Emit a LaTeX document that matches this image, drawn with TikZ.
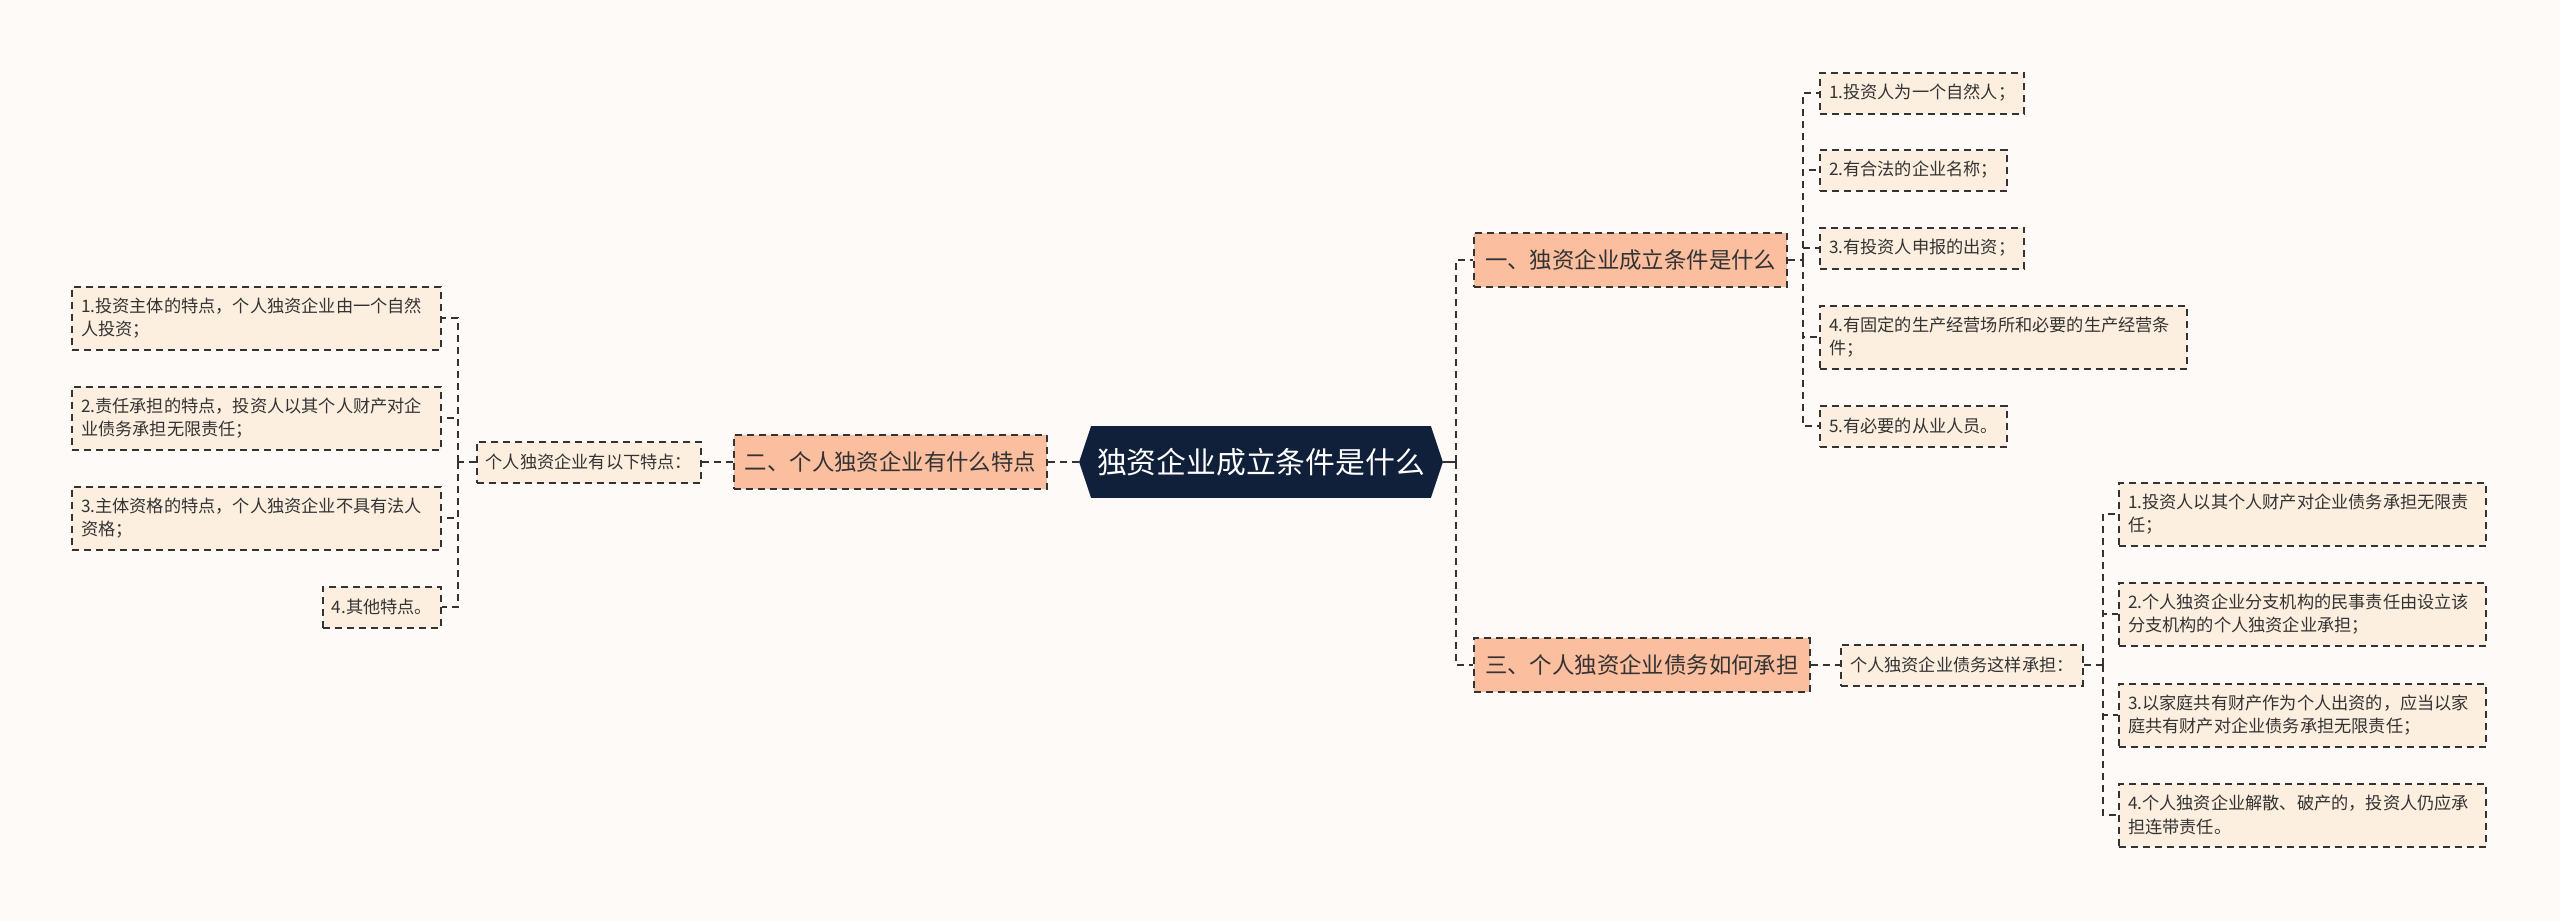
\documentclass[tikz,border=0pt]{standalone}
\usepackage{fontspec}
\setmainfont{Noto Sans CJK SC}
\usetikzlibrary{backgrounds,calc}
\definecolor{bgc}{HTML}{FDFAF8}
\definecolor{rootc}{HTML}{10203A}
\definecolor{brfill}{HTML}{FBBE9F}
\definecolor{leaffill}{HTML}{FDEFDF}
\definecolor{linec}{HTML}{333333}
\definecolor{textc}{HTML}{333333}
\begin{document}
\begin{tikzpicture}[x=0.5pt,y=-0.5pt,
  dashline/.style={draw=linec, line width=1pt, dash pattern=on 3.5pt off 2.5pt},
  conn/.style={dashline},
  leafbox/.style={dashline, fill=leaffill, inner xsep=4.5pt, inner ysep=0pt,
    font=\fontsize{8.6}{11.65}\selectfont, text=textc, align=left, minimum height=20.5pt},
  leaftwo/.style={leafbox, minimum height=31.5pt, text width=174.5pt},
  brbox/.style={dashline, fill=brfill, inner xsep=5.5pt, inner ysep=0pt,
    font=\fontsize{11.2}{13}\selectfont, text=textc, minimum height=27pt},
  rootbox/.style={inner sep=0pt, minimum width=181.5pt, minimum height=35.5pt,
    font=\fontsize{14.9}{17}\selectfont, text=white}
]
\useasboundingbox (0,0) rectangle (2560,921);

% root
\node[rootbox] (root) at (1261,462) {独资企业成立条件是什么};

% branches
\node[brbox, anchor=west] (b1) at (1473,260) {一、独资企业成立条件是什么};
\node[brbox, anchor=west] (b3) at (1473,665) {三、个人独资企业债务如何承担};
\node[brbox, anchor=east] (b2) at (1048,462) {二、个人独资企业有什么特点};

% mid nodes
\node[leafbox, anchor=east] (m2) at (702,462) {个人独资企业有以下特点：};
\node[leafbox, anchor=west] (m3) at (1840,665) {个人独资企业债务这样承担：};

% leaves of branch 1
\node[leafbox, anchor=west] (l1) at (1819,93) {1.投资人为一个自然人；};
\node[leafbox, anchor=west] (l2) at (1819,170) {2.有合法的企业名称；};
\node[leafbox, anchor=west] (l3) at (1819,248) {3.有投资人申报的出资；};
\node[leaftwo, anchor=west] (l4) at (1819,337) {4.有固定的生产经营场所和必要的生产经营条\\件；};
\node[leafbox, anchor=west] (l5) at (1819,426) {5.有必要的从业人员。};

% leaves of branch 3
\node[leaftwo, anchor=west] (r1) at (2118,514) {1.投资人以其个人财产对企业债务承担无限责\\任；};
\node[leaftwo, anchor=west] (r2) at (2118,614) {2.个人独资企业分支机构的民事责任由设立该\\分支机构的个人独资企业承担；};
\node[leaftwo, anchor=west] (r3) at (2118,715) {3.以家庭共有财产作为个人出资的，应当以家\\庭共有财产对企业债务承担无限责任；};
\node[leaftwo, anchor=west] (r4) at (2118,815) {4.个人独资企业解散、破产的，投资人仍应承\\担连带责任。};

% leaves of branch 2
\node[leaftwo, text width=175.5pt, anchor=east] (p1) at (442,318) {1.投资主体的特点，个人独资企业由一个自然\\人投资；};
\node[leaftwo, text width=175.5pt, anchor=east] (p2) at (442,418) {2.责任承担的特点，投资人以其个人财产对企\\业债务承担无限责任；};
\node[leaftwo, text width=175.5pt, anchor=east] (p3) at (442,518) {3.主体资格的特点，个人独资企业不具有法人\\资格；};
\node[leafbox, anchor=east] (p4) at (442,607) {4.其他特点。};

% junctions
\coordinate (jr) at (1456,462);
\coordinate (j1) at (1803,260);
\coordinate (j3) at (2103,665);
\coordinate (j2) at (458,462);

% background and hexagon
\begin{scope}[on background layer]
  \fill[bgc] (0,0) rectangle (2560,921);
  \fill[rootc] ([xshift=6pt]root.north west) -- ([xshift=-6pt]root.north east) -- (root.east)
    -- ([xshift=-6pt]root.south east) -- ([xshift=6pt]root.south west) -- (root.west) -- cycle;
\end{scope}

% connectors
\draw[draw=linec, line width=1pt] (root.east) -- (jr);
\draw[conn] (jr) |- (b1.west);
\draw[conn] (jr) |- (b3.west);
\draw[conn] (root.west) -- (b2.east);
\draw[conn] (b2.west) -- (m2.east);
\draw[conn] (b3.east) -- (m3.west);

\draw[conn] (b1.east) -- (j1);
\foreach \n in {l1,l2,l3,l4,l5} \draw[conn] (j1) |- (\n.west);

\draw[conn] (m3.east) -- (j3);
\foreach \n in {r1,r2,r3,r4} \draw[conn] (j3) |- (\n.west);

\draw[conn] (m2.west) -- (j2);
\foreach \n in {p1,p2,p3,p4} \draw[conn] (j2) |- (\n.east);
\end{tikzpicture}
\end{document}
